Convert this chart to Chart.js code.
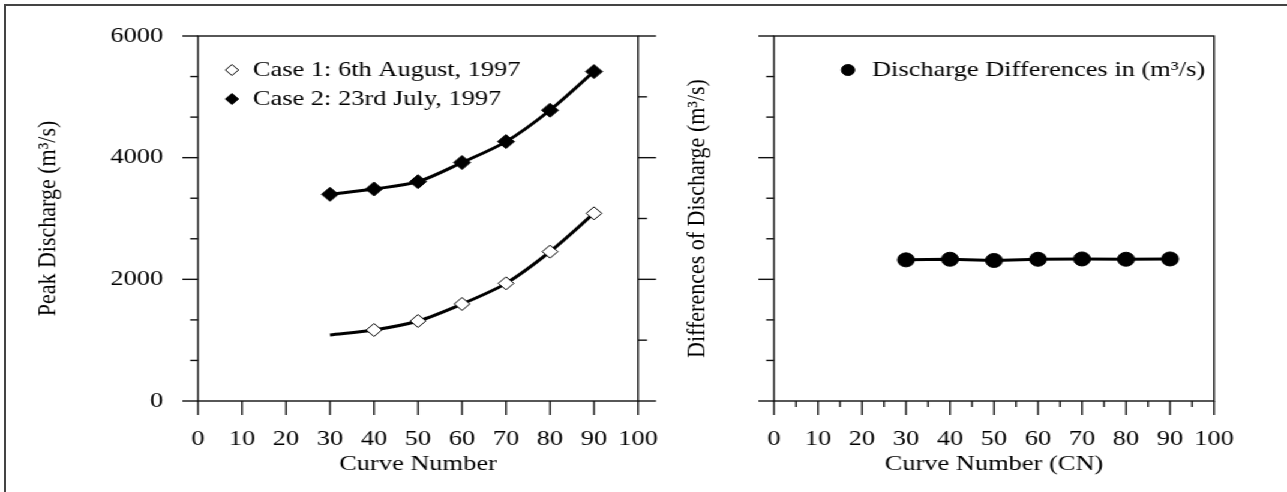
<!DOCTYPE html>
<html>
<head>
<meta charset="utf-8">
<script src="https://cdn.jsdelivr.net/npm/chart.js@4.4.1/dist/chart.umd.min.js"></script>
<style>
  html, body { margin: 0; padding: 0; background: #fff; }
  #page { position: relative; width: 1287px; height: 492px; overflow: hidden; }
  #frame { position: absolute; left: 4px; top: 4px; width: 1300px; height: 500px;
           border-left: 2px solid #444; border-top: 2px solid #444; }
  /* the original figure is stretched sideways, so the charts are drawn narrow and widened */
  #stretch { position: absolute; left: 0; top: 0; width: 1073px; height: 492px;
             transform: scaleX(1.2); transform-origin: 0 0; }
  canvas { position: absolute; top: 0; }
  #peakChart { left: 0; }
  #diffChart { left: 550px; }
</style>
</head>
<body>
<div id="page">
  <div id="frame"></div>
  <div id="stretch">
    <canvas id="peakChart" width="550" height="492"></canvas>
    <canvas id="diffChart" width="523" height="492"></canvas>
  </div>
</div>
<script>
// values (m3/s)
const curveNumbers = [30, 40, 50, 60, 70, 80, 90];
const case1Peak = [1085, 1167, 1315, 1595, 1934, 2455, 3085];
const case2Peak = [3397, 3485, 3605, 3920, 4264, 4780, 5415];
const peakDiff = [2320, 2330, 2310, 2330, 2335, 2330, 2335];

const xTickValues = [0, 10, 20, 30, 40, 50, 60, 70, 80, 90, 100];
const yTickValues = [0, 2000, 4000, 6000];

const FONT = 'Liberation Serif';
const FONT_SIZE = 22;

// tick marks and the box round the plot, placed with the chart's own scales
const axisMarks = {
    id: 'axisMarks',
    afterDraw(chart, args, opts) {
        const { ctx, chartArea: a, scales: { x, y } } = chart;
        const line = (x1, y1, x2, y2) => {
            ctx.beginPath();
            ctx.moveTo(x1, y1);
            ctx.lineTo(x2, y2);
            ctx.stroke();
        };
        ctx.save();
        ctx.strokeStyle = '#111';
        ctx.lineWidth = 1.4;
        ctx.strokeRect(a.left, a.top, a.right - a.left, a.bottom - a.top);

        for (let v = x.min; v <= x.max + 1e-6; v += opts.xStep) {
            const px = x.getPixelForValue(v);
            const major = Math.abs(v % 10) < 1e-6;
            line(px, a.bottom, px, a.bottom + (major ? 14 : 6));
        }
        for (let v = y.min; v <= y.max + 1e-6; v += 2000 / 3) {
            const py = y.getPixelForValue(v);
            const major = Math.abs(Math.round(v) % 2000) < 1;
            line(a.left - (major ? 13 : 6.5), py, a.left, py);
        }
        if (opts.rightTicks) {
            for (let v = y.min; v <= y.max + 1e-6; v += 1000) {
                const py = y.getPixelForValue(v);
                const major = v % 2000 === 0;
                line(a.right, py, a.right + (major ? 15 : 7.5), py);
            }
        }
        ctx.restore();
    }
};

function drawMarker(ctx, style, x, y, r, fill) {
    ctx.beginPath();
    if (style === 'circle') {
        ctx.arc(x, y, r, 0, Math.PI * 2);
    } else {
        ctx.moveTo(x, y - r);
        ctx.lineTo(x + r, y);
        ctx.lineTo(x, y + r);
        ctx.lineTo(x - r, y);
        ctx.closePath();
    }
    ctx.fillStyle = fill;
    ctx.fill();
    ctx.lineWidth = 1;
    ctx.strokeStyle = '#000';
    ctx.stroke();
}

// legend drawn inside the plot, as in the figure
const insideLegend = {
    id: 'insideLegend',
    afterDraw(chart, args, opts) {
        const ctx = chart.ctx;
        ctx.save();
        ctx.font = FONT_SIZE + 'px "' + FONT + '"';
        ctx.textBaseline = 'middle';
        chart.data.datasets.forEach((ds, i) => {
            const y = opts.y + i * opts.rowGap;
            drawMarker(ctx, ds.pointStyle, opts.x, y, opts.markerSize, ds.pointBackgroundColor);
            ctx.fillStyle = '#000';
            ctx.fillText(ds.label, opts.x + opts.textGap, y);
        });
        ctx.restore();
    }
};

function toPoints(values) {
    return curveNumbers.map((cn, i) => ({ x: cn, y: values[i] }));
}

function xScale(title) {
    return {
        type: 'linear',
        min: 0,
        max: 100,
        grid: { display: false, drawTicks: false },
        border: { display: false },
        afterBuildTicks: (scale) => { scale.ticks = xTickValues.map(v => ({ value: v })); },
        afterFit: (scale) => {
            scale.height = 91;
            scale.paddingLeft = 0;
            scale.paddingRight = 0;
        },
        ticks: {
            autoSkip: false,
            maxRotation: 0,
            minRotation: 0,
            padding: 25,
            color: '#000',
            font: { family: FONT, size: FONT_SIZE }
        },
        title: {
            display: true,
            text: title,
            color: '#000',
            font: { family: FONT, size: FONT_SIZE },
            padding: { top: 0, bottom: 15 }
        }
    };
}

function yScale(title, width, titlePad, showLabels) {
    return {
        type: 'linear',
        min: 0,
        max: 6000,
        grid: { display: false, drawTicks: false },
        border: { display: false },
        afterBuildTicks: (scale) => { scale.ticks = yTickValues.map(v => ({ value: v })); },
        afterFit: (scale) => {
            scale.width = width;
            scale.paddingTop = 0;
            scale.paddingBottom = 0;
        },
        ticks: {
            display: showLabels,
            padding: 29,
            color: '#000',
            font: { family: FONT, size: FONT_SIZE },
            callback: (v) => String(v)
        },
        title: {
            display: true,
            text: title,
            color: '#000',
            font: { family: FONT, size: FONT_SIZE },
            padding: { top: titlePad, bottom: 0 }
        }
    };
}

new Chart(document.getElementById('peakChart'), {
    type: 'line',
    data: {
        datasets: [
            {
                label: 'Case 1: 6th August, 1997',
                data: toPoints(case1Peak),
                borderColor: '#000',
                borderWidth: 3,
                tension: 0.3,
                pointStyle: 'rectRot',
                pointRadius: [0, 6.5, 6.5, 6.5, 6.5, 6.5, 6.5],
                pointBackgroundColor: '#fff',
                pointBorderColor: '#000',
                pointBorderWidth: 1
            },
            {
                label: 'Case 2: 23rd July, 1997',
                data: toPoints(case2Peak),
                borderColor: '#000',
                borderWidth: 3,
                tension: 0.3,
                pointStyle: 'rectRot',
                pointRadius: 7,
                pointBackgroundColor: '#000',
                pointBorderColor: '#000',
                pointBorderWidth: 1
            }
        ]
    },
    options: {
        responsive: false,
        animation: false,
        devicePixelRatio: 1,
        layout: { padding: { top: 36, right: 18.3, left: 0, bottom: 0 } },
        scales: {
            x: xScale('Curve Number'),
            y: yScale('Peak Discharge (m³/s)', 165, 27, true)
        },
        plugins: {
            legend: { display: false },
            tooltip: { enabled: false },
            axisMarks: { xStep: 10, rightTicks: true },
            insideLegend: { x: 193.3, y: 70, rowGap: 29, textGap: 17.5, markerSize: 5.5 }
        }
    },
    plugins: [axisMarks, insideLegend]
});

new Chart(document.getElementById('diffChart'), {
    type: 'line',
    data: {
        datasets: [
            {
                label: 'Discharge Differences in (m³/s)',
                data: toPoints(peakDiff),
                borderColor: '#000',
                borderWidth: 3,
                tension: 0,
                pointStyle: 'circle',
                pointRadius: 7,
                pointBackgroundColor: '#000',
                pointBorderColor: '#000',
                pointBorderWidth: 1
            }
        ]
    },
    options: {
        responsive: false,
        animation: false,
        devicePixelRatio: 1,
        layout: { padding: { top: 36, right: 61.3, left: 0, bottom: 0 } },
        scales: {
            x: xScale('Curve Number (CN)'),
            y: yScale('Differences of Discharge (m³/s)', 95, 17.6, false)
        },
        plugins: {
            legend: { display: false },
            tooltip: { enabled: false },
            axisMarks: { xStep: 5, rightTicks: false },
            insideLegend: { x: 156.7, y: 70, rowGap: 29, textGap: 20, markerSize: 5.5 }
        }
    },
    plugins: [axisMarks, insideLegend]
});
</script>
</body>
</html>
